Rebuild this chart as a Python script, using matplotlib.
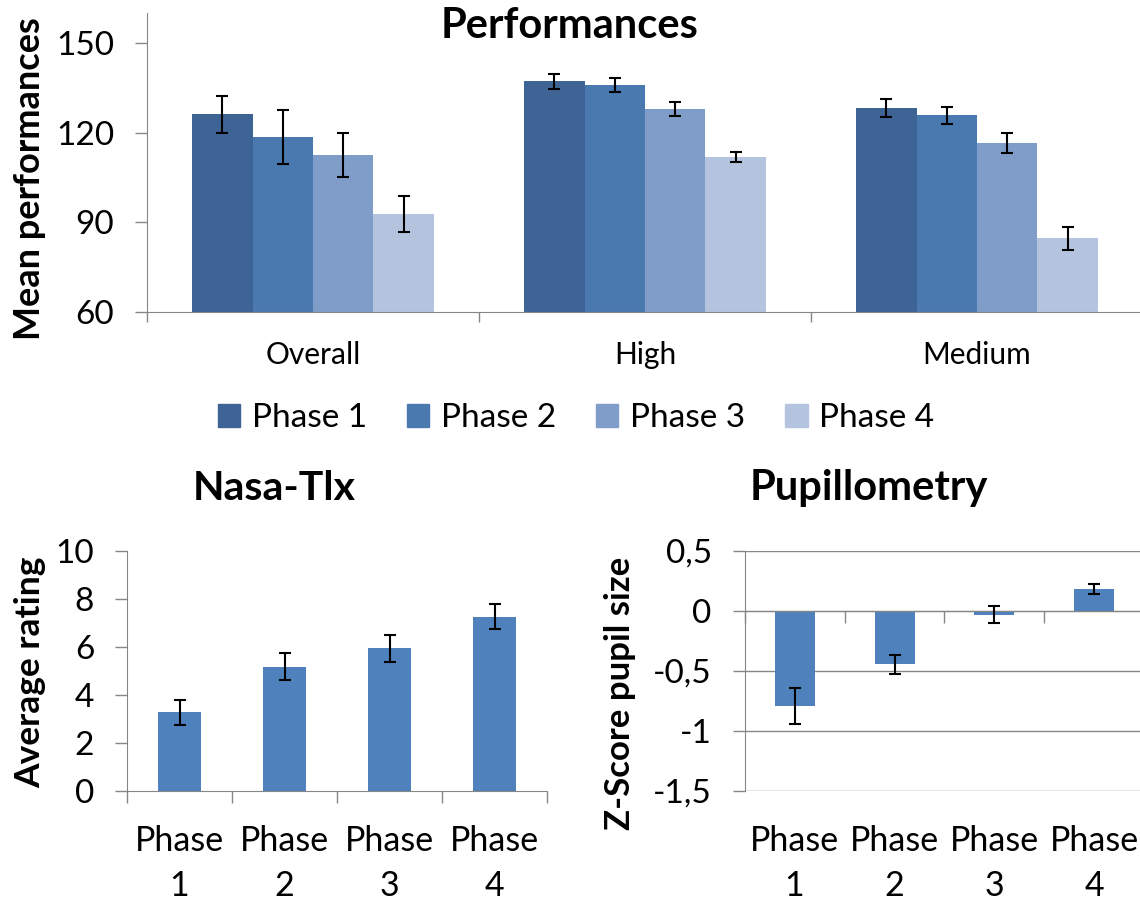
import numpy as np
import matplotlib
matplotlib.use('Agg')
import matplotlib.pyplot as plt
from matplotlib.ticker import FuncFormatter
from matplotlib.patches import Patch

plt.rcParams['font.family'] = ['Lato', 'DejaVu Sans']

# ---- data ----
groups = ['Overall', 'High', 'Medium']
phases = ['Phase 1', 'Phase 2', 'Phase 3', 'Phase 4']
perf_p1 = [126.1, 137.2, 128.2]
perf_p2 = [118.6, 135.9, 125.8]
perf_p3 = [112.4, 127.8, 116.5]
perf_p4 = [92.8, 111.9, 84.6]
err_p1 = [6.1, 2.5, 3.1]
err_p2 = [9.0, 2.4, 2.8]
err_p3 = [7.3, 2.4, 3.2]
err_p4 = [6.0, 1.6, 3.7]
phase_colors = ['#3E6496', '#4A79B0', '#7F9DC8', '#B5C4DE']

nasa_labels = ['Phase\n1', 'Phase\n2', 'Phase\n3', 'Phase\n4']
nasa_vals = [3.27, 5.17, 5.93, 7.24]
nasa_err = [0.53, 0.57, 0.57, 0.52]

pupil_labels = ['Phase\n1', 'Phase\n2', 'Phase\n3', 'Phase\n4']
pupil_vals = [-0.794, -0.447, -0.033, 0.183]
pupil_err = [0.146, 0.078, 0.070, 0.043]

gray = '#868686'
W, H = 1140, 901

fig = plt.figure(figsize=(W / 100, H / 100), dpi=100)

# ---------------- Performances ----------------
ax1 = fig.add_axes([147 / W, 1 - 312 / H, 996 / W, 299 / H])
x = np.arange(len(groups))
bw = 1 / 5.5
series = [perf_p1, perf_p2, perf_p3, perf_p4]
errs = [err_p1, err_p2, err_p3, err_p4]
for j in range(4):
    xs = x + (j - 1.5) * bw
    ax1.bar(xs, series[j], bw, bottom=0, color=phase_colors[j], label=phases[j], zorder=2)
    ax1.errorbar(xs, series[j], yerr=errs[j], fmt='none', ecolor='black',
                 elinewidth=1.5, capsize=4.5, capthick=1.5, zorder=3)
ax1.set_ylim(60, 160)
ax1.set_xlim(-0.5, len(groups) - 0.5)
ax1.set_yticks([60, 90, 120, 150])
ax1.set_xticks(x, groups)
ax1.set_xticks(np.arange(len(groups) + 1) - 0.5, minor=True)
ax1.tick_params(axis='x', which='major', length=0, pad=21, labelsize=21.5)
ax1.tick_params(axis='x', which='minor', length=7, color=gray, width=1)
ax1.tick_params(axis='y', length=8.6, color=gray, width=1, pad=15, labelsize=24)
for s in ['top', 'right']:
    ax1.spines[s].set_visible(False)
for s in ['left', 'bottom']:
    ax1.spines[s].set_color(gray)
ax1.set_ylabel('Mean performances', fontsize=26, fontweight='bold')
ax1.yaxis.set_label_coords((46 - 147) / 996, (312 - 179) / 299)
handles = [Patch(color=c) for c in phase_colors]
fig.legend(handles, phases, loc='center', bbox_to_anchor=(576 / W, 1 - 418 / H),
           ncol=4, frameon=False, fontsize=24, handlelength=0.67, handleheight=0.67,
           handletextpad=0.35, columnspacing=1.2)
fig.text(570 / W, 1 - 26 / H, 'Performances', ha='center', va='center',
         fontsize=30, fontweight='bold')

# ---------------- Nasa-Tlx ----------------
ax2 = fig.add_axes([127 / W, 1 - 790.7 / H, 420 / W, 240 / H])
x2 = np.arange(len(nasa_vals))
ax2.bar(x2, nasa_vals, 0.41, color='#4F81BD', zorder=2)
ax2.errorbar(x2, nasa_vals, yerr=nasa_err, fmt='none', ecolor='black',
             elinewidth=1.5, capsize=4.5, capthick=1.5, zorder=3)
ax2.set_ylim(0, 10)
ax2.set_xlim(-0.5, len(nasa_vals) - 0.5)
ax2.set_yticks([0, 2, 4, 6, 8, 10])
ax2.set_xticks(x2, nasa_labels)
ax2.set_xticks(np.arange(len(nasa_vals) + 1) - 0.5, minor=True)
ax2.tick_params(axis='x', which='major', length=0, pad=25, labelsize=24.5)
ax2.tick_params(axis='x', which='minor', length=8.6, color=gray, width=1)
ax2.tick_params(axis='y', length=8.6, color=gray, width=1, pad=15, labelsize=24)
for lab in ax2.get_xticklabels():
    lab.set_linespacing(1.5)
for s in ['top', 'right']:
    ax2.spines[s].set_visible(False)
for s in ['left', 'bottom']:
    ax2.spines[s].set_color(gray)
ax2.set_ylabel('Average rating', fontsize=25.5, fontweight='bold')
ax2.yaxis.set_label_coords((46 - 127) / 420, (790.7 - 672) / 240)
fig.text(274 / W, 1 - 488 / H, 'Nasa-Tlx', ha='center', va='center',
         fontsize=29.5, fontweight='bold')

# ---------------- Pupillometry ----------------
ax3 = fig.add_axes([744.5 / W, 1 - 790.7 / H, 400 / W, 240 / H])
x3 = np.arange(len(pupil_vals))
ax3.bar(x3, pupil_vals, 0.4, color='#4F81BD', zorder=2)
ax3.errorbar(x3, pupil_vals, yerr=pupil_err, fmt='none', ecolor='black',
             elinewidth=1.5, capsize=4.5, capthick=1.5, zorder=3)
ax3.set_ylim(-1.5, 0.5)
ax3.set_xlim(-0.5, len(pupil_vals) - 0.5)
ax3.set_yticks([-1.5, -1, -0.5, 0, 0.5])
ax3.yaxis.set_major_formatter(FuncFormatter(lambda v, p: f'{v:g}'.replace('.', ',')))
ax3.yaxis.grid(True, color=gray, lw=1)
ax3.set_axisbelow(True)
ax3.spines['bottom'].set_position(('data', 0))
ax3.spines['bottom'].set_color(gray)
ax3.spines['left'].set_color(gray)
for s in ['top', 'right']:
    ax3.spines[s].set_visible(False)
ax3.set_xticks(x3)
ax3.tick_params(axis='x', which='major', length=0, labelbottom=False)
ax3.set_xticks(np.arange(len(pupil_vals) + 1) - 0.5, minor=True)
ax3.tick_params(axis='x', which='minor', length=8.6, color=gray, width=1)
ax3.tick_params(axis='y', length=8.6, color=gray, width=1, pad=15, labelsize=24)
sec = ax3.secondary_xaxis(0)
sec.set_xticks(x3, pupil_labels)
sec.tick_params(length=0, pad=25, labelsize=24.5)
sec.spines['bottom'].set_visible(False)
for lab in sec.get_xticklabels():
    lab.set_linespacing(1.5)
ax3.set_ylabel('Z-Score pupil size', fontsize=25, fontweight='bold')
ax3.yaxis.set_label_coords((636 - 744.5) / 400, (790.7 - 693) / 240)
fig.text(869 / W, 1 - 488 / H, 'Pupillometry', ha='center', va='center',
         fontsize=30, fontweight='bold')

fig.savefig('out.png', dpi=100)
